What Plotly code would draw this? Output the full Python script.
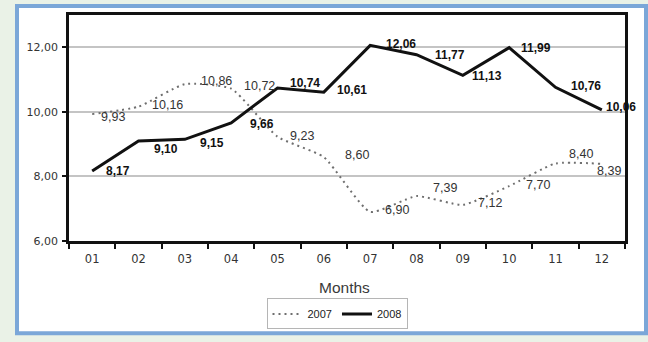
import plotly.graph_objects as go

months = ["01", "02", "03", "04", "05", "06", "07", "08", "09", "10", "11", "12"]
values_2007 = [9.93, 10.16, 10.86, 10.72, 9.23, 8.60, 6.90, 7.39, 7.12, 7.70, 8.40, 8.39]
values_2008 = [8.17, 9.10, 9.15, 9.66, 10.74, 10.61, 12.06, 11.77, 11.13, 11.99, 10.76, 10.06]
y_ticks = [6, 8, 10, 12]

# label offsets (pixels, right / down) relative to each point
off_2007 = [(21, 3), (29, -2), (32, -3), (28, -3), (24, -1), (33, -2),
            (27, -2), (28, -8), (27, -2), (29, -1), (25, -10), (7, 7)]
off_2008 = [(26, 0), (27, 8), (27, 4), (31, 1), (27, -5), (28, -2),
            (31, -1), (33, 0), (24, 1), (27, 0), (30, -1), (19, -3)]

W, H = 648, 342
L, R, T, B = 69, 23, 15, 99
pw, ph = W - L - R, H - T - B


def px(x):
    return (x - L) / pw


def py(y):
    return (H - B - y) / ph


fig = go.Figure()
fig.add_trace(go.Scatter(
    x=months, y=values_2007, name="2007", mode="lines",
    line=dict(color="#6f6f6f", width=2, dash="2px,4px", shape="spline", smoothing=0.5),
))
fig.add_trace(go.Scatter(
    x=months, y=values_2008, name="2008", mode="lines",
    line=dict(color="#111111", width=3),
))

annotations = []
for i, (v, (dx, dy)) in enumerate(zip(values_2007, off_2007)):
    annotations.append(dict(
        x=i, y=v, xref="x", yref="y", text=f"{v:.2f}".replace(".", ","),
        showarrow=False, xanchor="center", yanchor="middle",
        xshift=dx, yshift=-dy,
        font=dict(family="Liberation Sans, Arial", size=12.5, color="#333333"),
    ))
for i, (v, (dx, dy)) in enumerate(zip(values_2008, off_2008)):
    annotations.append(dict(
        x=i, y=v, xref="x", yref="y", text=f"<b>{v:.2f}</b>".replace(".", ","),
        showarrow=False, xanchor="center", yanchor="middle",
        xshift=dx, yshift=-dy,
        font=dict(family="Liberation Sans, Arial", size=12, color="#111111"),
    ))
annotations.append(dict(
    x=0.495, y=py(290), xref="paper", yref="paper", text="Months",
    showarrow=False, xanchor="center", yanchor="middle",
    font=dict(family="Liberation Sans, Arial", size=15.5, color="#3a3a3a"),
))

fig.update_layout(
    width=W, height=H,
    margin=dict(l=L, r=R, t=T, b=B, pad=0),
    paper_bgcolor="#eaf2e7",
    plot_bgcolor="rgba(0,0,0,0)",
    separators=",.",
    showlegend=True,
    legend=dict(
        orientation="h", x=px(337), xanchor="center", y=py(301), yanchor="top",
        bordercolor="#b5b5b5", borderwidth=1, bgcolor="white",
        font=dict(family="Liberation Sans, Arial", size=11, color="#222222"),
        itemwidth=30, tracegroupgap=0,
    ),
    shapes=[dict(
        type="rect", xref="paper", yref="paper", layer="below",
        x0=px(17), x1=px(646), y0=py(336), y1=py(6),
        fillcolor="white", line=dict(color="#7ba7d8", width=4),
    )],
    annotations=annotations,
    xaxis=dict(
        type="category", range=[-0.5, len(months) - 0.5],
        tickson="boundaries", ticks="outside", ticklen=5,
        tickwidth=1.5, tickcolor="#111111", showgrid=False,
        showline=True, linecolor="#111111", linewidth=2.5, mirror=True,
        tickfont=dict(family="DejaVu Sans", size=11.5, color="#333333"),
        ticklabelstandoff=5,
    ),
    yaxis=dict(
        range=[6, 13], tickvals=y_ticks, tickformat=".2f",
        ticks="outside", ticklen=4, tickwidth=1.5, tickcolor="#111111",
        showgrid=True, gridcolor="#c4c4c4", gridwidth=1.5, zeroline=False,
        showline=True, linecolor="#111111", linewidth=2.5, mirror=True,
        tickfont=dict(family="DejaVu Sans", size=11, color="#333333"),
        ticklabelstandoff=2,
    ),
)

fig.write_html("out.html")
